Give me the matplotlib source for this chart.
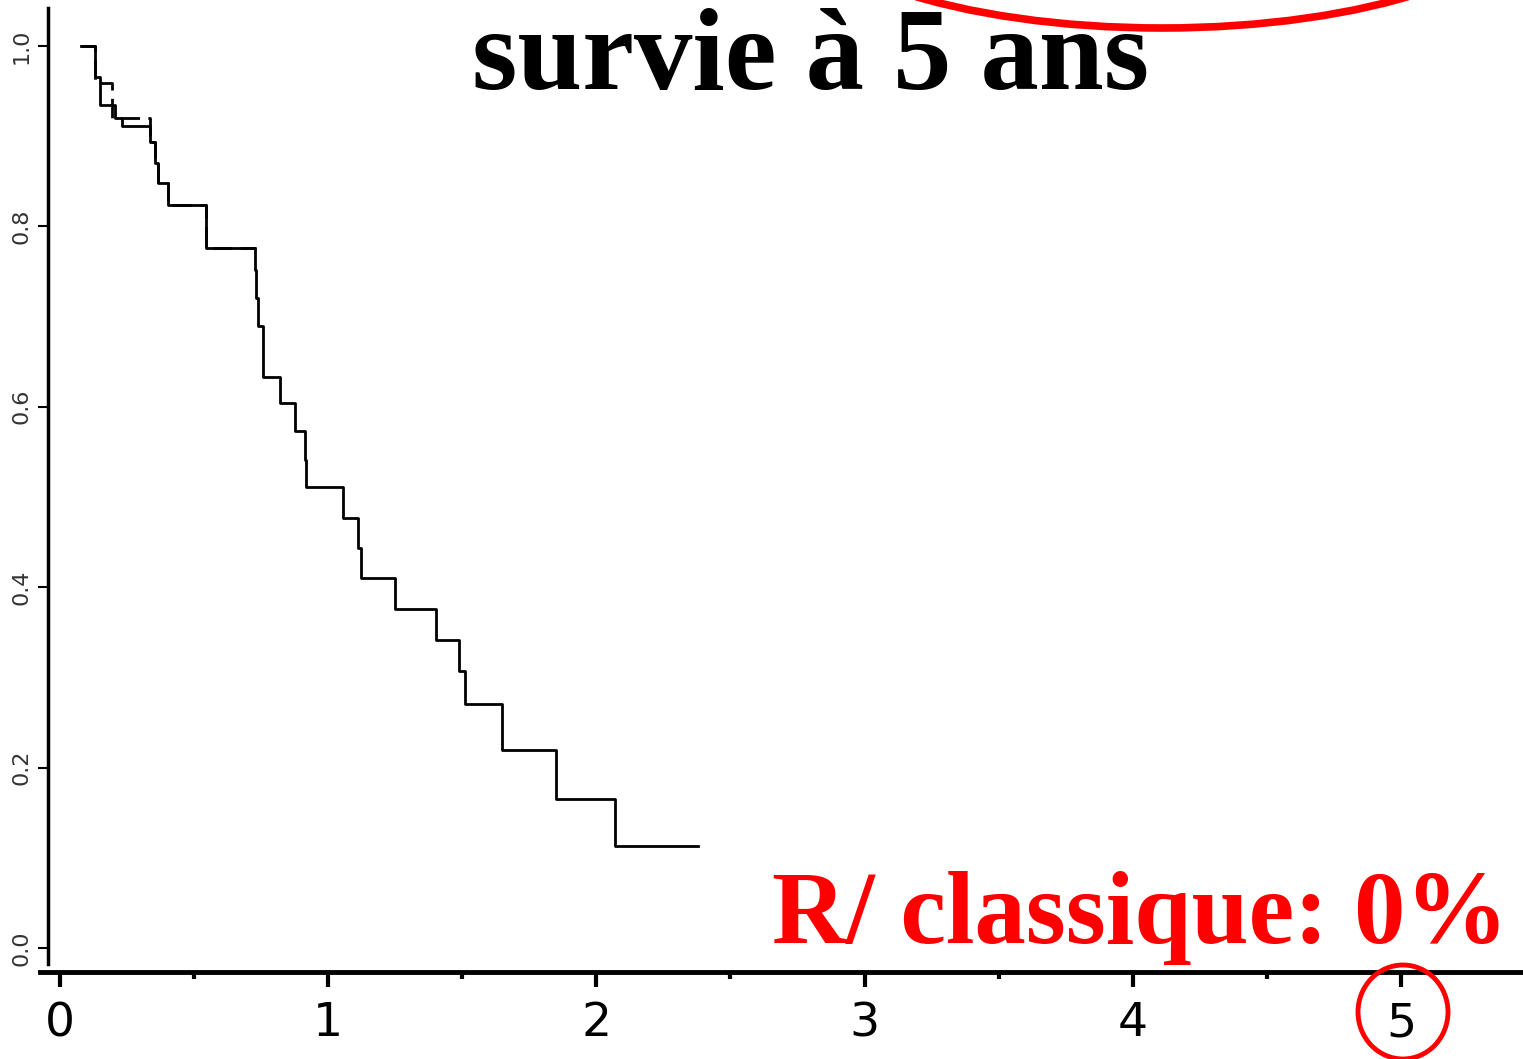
import matplotlib
matplotlib.use("Agg")
import matplotlib.pyplot as plt
from matplotlib.patches import Ellipse

# --- DATA ---
# main Kaplan-Meier curve (solid), step times in years / survival after step
t_solid = [0.08, 0.13, 0.149, 0.206, 0.23, 0.336, 0.354, 0.365, 0.403, 0.545,
           0.727, 0.731, 0.738, 0.757, 0.82, 0.876, 0.913, 0.918, 1.055, 1.111,
           1.122, 1.249, 1.402, 1.488, 1.51, 1.648, 1.849, 2.069, 2.379]
s_solid = [1.0, 0.965, 0.935, 0.92, 0.911, 0.894, 0.87, 0.848, 0.824, 0.776,
           0.752, 0.72, 0.69, 0.633, 0.604, 0.573, 0.541, 0.511, 0.477, 0.443,
           0.41, 0.376, 0.341, 0.307, 0.27, 0.22, 0.165, 0.113, 0.113]

# second group (dashed), only visible early on
t_dash = [0.08, 0.13, 0.194, 0.336, 0.354, 0.365, 0.403, 0.545, 0.73]
s_dash = [1.0, 0.959, 0.92, 0.894, 0.87, 0.848, 0.824, 0.776, 0.776]

x_ticks = [0, 1, 2, 3, 4, 5]
x_minor = [0.5, 1.5, 2.5, 3.5, 4.5]
y_ticks = [0.0, 0.2, 0.4, 0.6, 0.8, 1.0]
y_labels = ["0.0", "0.2", "0.4", "0.6", "0.8", "1.0"]

title = "survie à 5 ans"
note = "R/ classique: 0%"

W, H = 1523, 1059
fig = plt.figure(figsize=(W / 100, H / 100), dpi=100)
fig.patch.set_facecolor("white")

# axes placed so 0..5 years and 0..1 survival land where the picture has them
ax = fig.add_axes([48 / W, (H - 972) / H, (W - 48) / W, (972 - 8) / H])
ax.set_xlim(-0.0447, 5.455)
ax.set_ylim(-0.0266, 1.042)

ax.step(t_solid, s_solid, where="post", color="black", lw=2.0)
ax.step(t_dash, s_dash, where="post", color="black", lw=2.0,
        linestyle=(0, (7, 3)))

for side in ["top", "right"]:
    ax.spines[side].set_visible(False)
ax.spines["bottom"].set_linewidth(3.5)
ax.spines["bottom"].set_bounds(-0.075, 5.455)
ax.spines["left"].set_linewidth(2.5)
ax.spines["left"].set_bounds(-0.018, 1.042)

ax.set_xticks(x_ticks)
ax.set_xticklabels([str(v) for v in x_ticks], fontsize=34, family="DejaVu Sans")
ax.set_xticks(x_minor, minor=True)
ax.tick_params(axis="x", which="major", length=11, width=3, pad=10)
ax.tick_params(axis="x", which="minor", length=5, width=3)

ax.set_yticks(y_ticks)
ax.set_yticklabels(y_labels, fontsize=16, rotation=90, va="center",
                   color="#333333", family="DejaVu Sans")
ax.tick_params(axis="y", length=7, width=1.5, pad=5)

# titles
fig.text(811 / W, 1 - 89 / H, title, ha="center", va="baseline",
         fontsize=84, fontweight="bold", family="Liberation Serif", color="black")
fig.text(772 / W, 1 - 943 / H, note, ha="left", va="baseline",
         fontsize=74, fontweight="bold", family="Liberation Serif", color="red")

# red hand-drawn style highlights
ov = fig.add_axes([0, 0, 1, 1], facecolor="none")
ov.set_xlim(0, W)
ov.set_ylim(H, 0)
ov.axis("off")
ov.add_patch(Ellipse((1162, -100), 750, 256, fill=False, edgecolor="red", lw=5.5))
ov.add_patch(Ellipse((1403, 1012), 90, 94, fill=False, edgecolor="red", lw=3.5))

fig.savefig("out.png", dpi=100)
